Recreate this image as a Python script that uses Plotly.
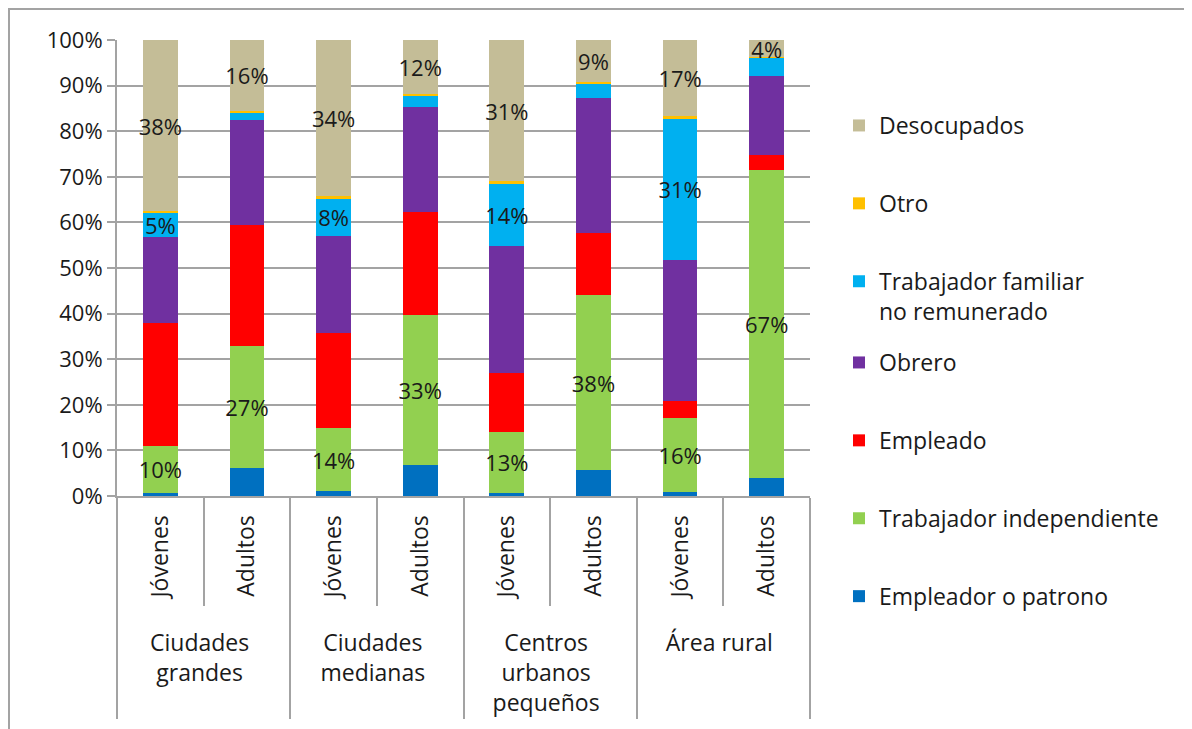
import plotly.graph_objects as go

# ---- data (percent of each population group) ----
groups = ["Ciudades<br>grandes", "Ciudades<br>medianas", "Centros<br>urbanos<br>pequeños", "Área rural"]
subgroups = ["Jóvenes", "Adultos"]

empleador = [0.7, 6.2, 1.0, 6.7, 0.7, 5.7, 0.9, 4.0]
trab_indep = [10.3, 26.7, 13.9, 33.1, 13.4, 38.3, 16.1, 67.4]
empleado = [26.9, 26.5, 20.8, 22.4, 12.9, 13.6, 3.9, 3.3]
obrero = [19.0, 23.1, 21.3, 23.0, 27.8, 29.6, 30.9, 17.5]
trab_fam = [5.2, 1.6, 8.2, 2.6, 13.6, 3.3, 30.9, 3.9]
otro = [0.3, 0.4, 0.7, 0.4, 0.6, 0.4, 0.7, 0.1]
desocupados = [37.6, 15.5, 34.1, 11.8, 31.0, 9.1, 16.6, 3.8]

# which segments carry a value label
show_trab_indep = [True] * 8
show_trab_fam = [True, False, True, False, True, False, True, False]
show_desocupados = [True] * 8

# leading no-break spaces give the rotated inner labels extra depth so the
# group labels sit lower, as in the original
PAD = "\u00a0" * 3
x_group = [g for g in groups for _ in subgroups]
x_sub = [PAD + s for s in subgroups] * len(groups)

GRID = "#a3a3a3"
TXT = "#1a1a1a"
FONT = "Open Sans"


def labels(vals, show):
    if show is None:
        return None
    return [f"{v:.0f}%" if s else "" for v, s in zip(vals, show)]


# name, values, colour, label mask, legend, legend rank
series = [
    ("Empleador o patrono", empleador, "#0070C0", None, "legend2", 7),
    ("Trabajador independiente", trab_indep, "#92D050", show_trab_indep, "legend2", 6),
    ("Empleado", empleado, "#FF0000", None, "legend2", 5),
    ("Obrero", obrero, "#7030A0", None, "legend2", 4),
    ("Trabajador familiar<br>no remunerado", trab_fam, "#00B0F0", show_trab_fam, "legend", 3),
    ("Otro", otro, "#FFC000", None, "legend", 2),
    ("Desocupados", desocupados, "#C4BD97", show_desocupados, "legend", 1),
]

fig = go.Figure()
for name, vals, color, show, leg, rank in series:
    fig.add_trace(go.Bar(
        name=name,
        x=[x_group, x_sub],
        y=vals,
        marker=dict(color=color, line=dict(width=0)),
        text=labels(vals, show),
        textposition="inside" if show else "none",
        insidetextanchor="middle",
        textangle=0,
        constraintext="none",
        textfont=dict(family=FONT, size=22, color=TXT),
        legendgroup=name,
        legendrank=rank,
        legend=leg,
        cliponaxis=False,
        hoverinfo="skip",
    ))

# figure-pixel geometry (page adds an 8px body margin)
PLOT_L, PLOT_R, PLOT_T, PLOT_B = 109, 802, 32, 488
W, H = 1192, 729
pw, ph = PLOT_R - PLOT_L, PLOT_B - PLOT_T


def px_x(p):
    return (p - PLOT_L) / pw


def px_y(p):
    return (PLOT_B - p) / ph


legend_common = dict(
    xanchor="left", yanchor="top",
    font=dict(family=FONT, size=23, color=TXT),
    tracegroupgap=45,
    traceorder="grouped",
    valign="top",
    bgcolor="rgba(0,0,0,0)",
    itemclick=False,
)

fig.update_layout(
    width=W, height=H,
    margin=dict(l=PLOT_L, r=W - PLOT_R, t=PLOT_T, b=H - PLOT_B),
    barmode="stack",
    bargap=0.6,
    paper_bgcolor="white",
    plot_bgcolor="white",
    font=dict(family=FONT, size=22, color=TXT),
    showlegend=True,
    legend=dict(x=px_x(831), y=px_y(96), **legend_common),
    legend2=dict(x=px_x(831), y=px_y(333), **legend_common),
    xaxis=dict(
        type="multicategory",
        showline=True, linecolor=GRID, linewidth=2,
        ticks="outside", ticklen=108, tickcolor=GRID, tickwidth=2,
        tickangle=-90,
        ticklabelstandoff=8,
        showdividers=True, dividercolor=GRID, dividerwidth=2,
        showgrid=False,
        tickfont=dict(family=FONT, size=23, color=TXT),
    ),
    yaxis=dict(
        range=[0, 100], dtick=10, ticksuffix="%",
        showgrid=True, gridcolor=GRID, gridwidth=2,
        ticks="outside", ticklen=8, tickcolor=GRID, tickwidth=2,
        showline=True, linecolor=GRID, linewidth=2,
        zeroline=False,
        tickfont=dict(family=FONT, size=22, color=TXT),
    ),
    shapes=[dict(
        type="rect", xref="paper", yref="paper",
        x0=px_x(1), x1=px_x(W + 20), y0=px_y(H + 20), y1=px_y(1),
        line=dict(color=GRID, width=2), fillcolor="rgba(0,0,0,0)", layer="below",
    )],
)

fig.write_html("out.html")
